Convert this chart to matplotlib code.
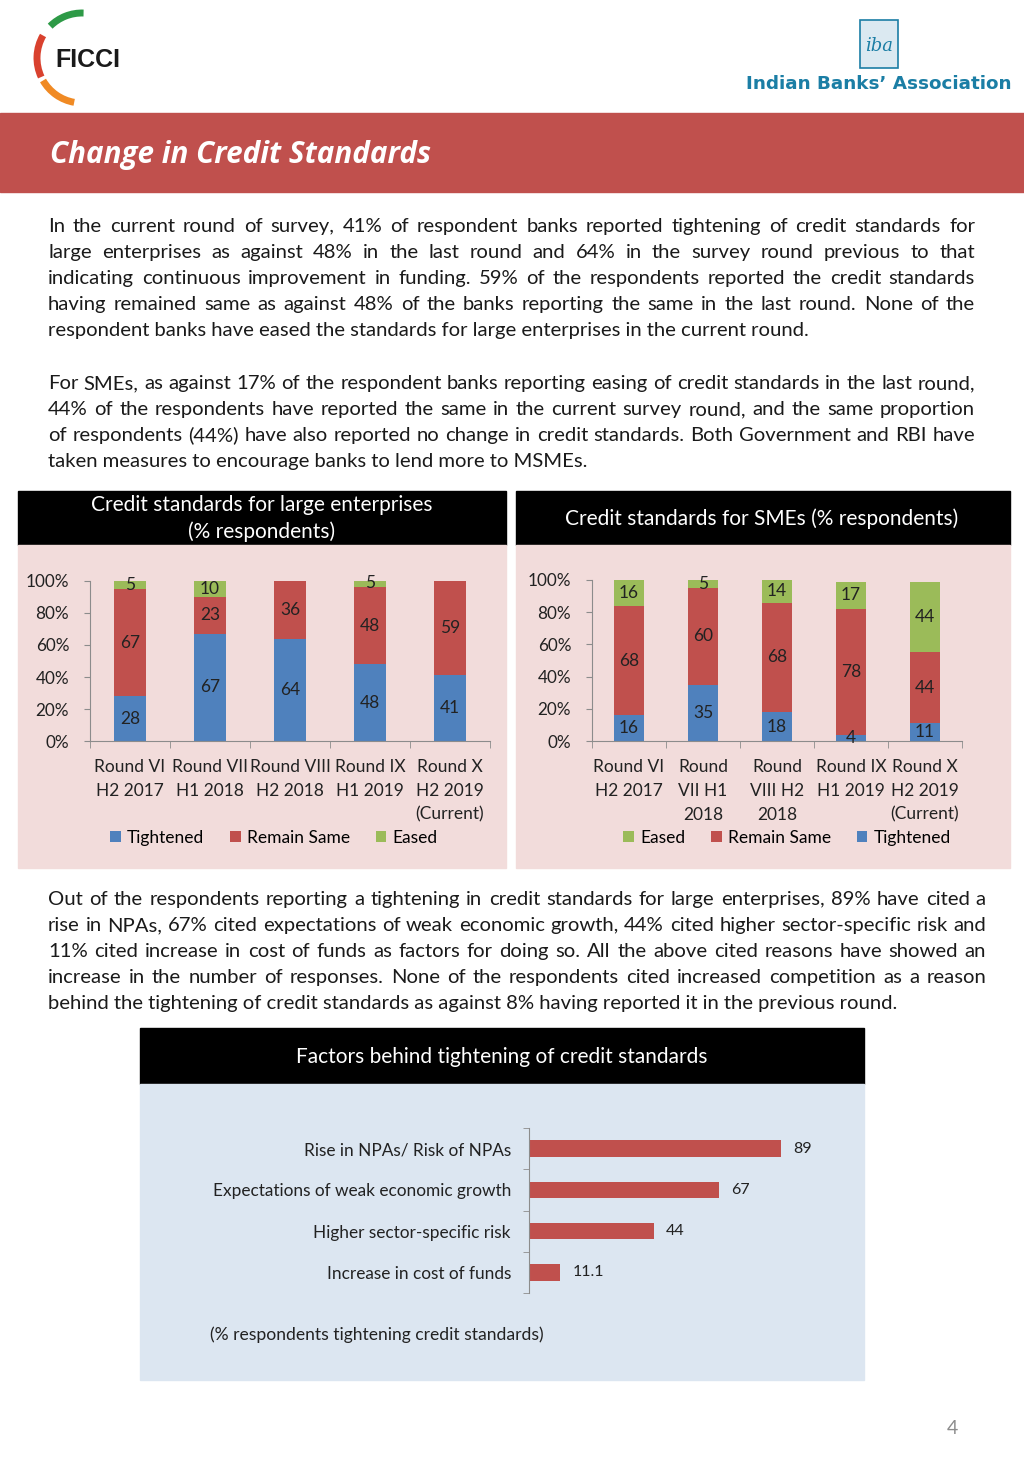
import matplotlib
matplotlib.use("Agg")
import matplotlib.pyplot as plt
from matplotlib.patches import Rectangle, Arc
import numpy as np

W, H = 1024, 1478
FONT = "Lato"
BLUE = "#4f81bd"
RED = "#c0504d"
GREEN = "#9bbb59"
GREY = "#8c8c8c"

# === Data ===
rounds_large = ["Round VI\nH2 2017", "Round VII\nH1 2018", "Round VIII\nH2 2018",
                "Round IX\nH1 2019", "Round X\nH2 2019\n(Current)"]
large_tightened = [28, 67, 64, 48, 41]
large_same = [67, 23, 36, 48, 59]
large_eased = [5, 10, 0, 5, 0]

rounds_sme = ["Round VI\nH2 2017", "Round\nVII H1\n2018", "Round\nVIII H2\n2018",
              "Round IX\nH1 2019", "Round X\nH2 2019\n(Current)"]
sme_tightened = [16, 35, 18, 4, 11]
sme_same = [68, 60, 68, 78, 44]
sme_eased = [16, 5, 14, 17, 44]

factors = ["Rise in NPAs/ Risk of NPAs", "Expectations of weak economic growth",
           "Higher sector-specific risk", "Increase in cost of funds"]
factor_values = [89, 67, 44, 11.1]

para1 = [
    "In the current round of survey, 41% of respondent banks reported tightening of credit standards for",
    "large enterprises as against 48% in the last round and 64% in the survey round previous to that",
    "indicating continuous improvement in funding. 59% of the respondents reported the credit standards",
    "having remained same as against 48% of the banks reporting the same in the last round.  None of the",
    "respondent banks have eased the standards for large enterprises in the current round.",
]
para2 = [
    "For SMEs, as against 17% of the respondent banks reporting easing of credit standards in the last round,",
    "44% of the respondents have reported the same in the current survey round, and the same proportion",
    "of respondents (44%) have also reported no change in credit standards. Both Government and RBI have",
    "taken measures to encourage banks to lend more to MSMEs.",
]
para3 = [
    "Out of the respondents reporting a tightening in credit standards for large enterprises, 89% have cited a",
    "rise in NPAs, 67% cited expectations of weak economic growth, 44% cited higher sector-specific risk and",
    "11% cited increase in cost of funds as factors for doing so. All the above cited reasons have showed an",
    "increase in the number of responses. None of the respondents cited increased competition as a reason",
    "behind the tightening of credit standards as against 8% having reported it in the previous round.",
]


def box(x, y, w, h):
    return [x / W, 1 - (y + h) / H, w / W, h / H]


fig = plt.figure(figsize=(W / 100, H / 100), dpi=100)
bg = fig.add_axes([0, 0, 1, 1])
bg.set_xlim(0, W)
bg.set_ylim(H, 0)
bg.axis("off")
renderer = fig.canvas.get_renderer()

# === Logos ===
bg.add_patch(Arc((82, 58), 90, 90, theta1=-135, theta2=-88, color="#2e9a47", lw=5))
bg.add_patch(Arc((82, 58), 90, 90, theta1=155, theta2=210, color="#d9412e", lw=5))
bg.add_patch(Arc((82, 58), 90, 90, theta1=100, theta2=150, color="#f08a24", lw=5))
bg.text(55, 60, "FICCI", fontsize=18, fontweight="bold", family="Liberation Sans",
        va="center", ha="left", color="#1a1a1a")
bg.add_patch(Rectangle((860, 20), 38, 48, facecolor="#dbe9f1", edgecolor="#1b7ea5", lw=1.2))
bg.text(879, 46, "iba", fontsize=13, family="DejaVu Serif", style="italic",
        ha="center", va="center", color="#1b7ea5")
bg.text(746, 84, "Indian Banks\u2019 Association", fontsize=13.2, fontweight="bold",
        family="DejaVu Sans", va="center", ha="left", color="#1b7ea5")

# === Banner ===
bg.add_patch(Rectangle((0, 113), W, 79, color=RED))
bg.text(50, 155, "Change in Credit Standards", fontsize=21.3, fontweight="bold",
        style="italic", family="Open Sans", color="white", va="center", ha="left")


# === Justified paragraphs ===
def justified(line, x0, x1, yb, fs=14.6, last=False):
    if last:
        bg.text(x0, yb, line, fontsize=fs, family=FONT, va="baseline", ha="left", color="#1a1a1a")
        return
    words = line.split()
    texts = [bg.text(0, yb, w, fontsize=fs, family=FONT, va="baseline", ha="left",
                     color="#1a1a1a") for w in words]
    widths = [t.get_window_extent(renderer).width for t in texts]
    gap = (x1 - x0 - sum(widths)) / (len(words) - 1)
    x = x0
    for t, w in zip(texts, widths):
        t.set_x(x)
        x += w + gap


for i, line in enumerate(para1):
    justified(line, 48, 975, 232 + 26 * i, last=(i == len(para1) - 1))
for i, line in enumerate(para2):
    justified(line, 48, 975, 389 + 26 * i, last=(i == len(para2) - 1))
for i, line in enumerate(para3):
    justified(line, 48, 986, 905 + 26 * i, last=(i == len(para3) - 1))

# === Panels ===
bg.add_patch(Rectangle((18, 491), 488, 54, color="black"))
bg.add_patch(Rectangle((18, 545), 488, 323, color="#f2dcdb"))
bg.add_patch(Rectangle((516, 491), 494, 54, color="black"))
bg.add_patch(Rectangle((516, 545), 494, 323, color="#f2dcdb"))
bg.add_patch(Rectangle((140, 1028), 724, 56, color="black"))
bg.add_patch(Rectangle((140, 1084), 724, 296, color="#dce6f1"))

bg.text(262, 505, "Credit standards for large enterprises", fontsize=15, family=FONT,
        color="white", ha="center", va="center")
bg.text(262, 532, "(% respondents)", fontsize=15, family=FONT,
        color="white", ha="center", va="center")
bg.text(762, 519, "Credit standards for SMEs (% respondents)", fontsize=15, family=FONT,
        color="white", ha="center", va="center")
bg.text(502, 1057, "Factors behind tightening of credit standards", fontsize=15, family=FONT,
        color="white", ha="center", va="center")


def stacked(rect, labels, series, legend_order, legend_x):
    ax = fig.add_axes(box(*rect))
    ax.set_facecolor("none")
    x = np.arange(len(labels))
    bottom = np.zeros(len(labels))
    handles = {}
    for vals, col, name in series:
        b = ax.bar(x, vals, 0.4, bottom=bottom, color=col, label=name)
        handles[name] = b
        for xi, v, b0 in zip(x, vals, bottom):
            if v > 0:
                ax.text(xi, b0 + v / 2, str(v), ha="center", va="center",
                        fontsize=12.5, family=FONT, color="#222222")
        bottom += np.array(vals)
    ax.set_xlim(-0.5, len(labels) - 0.5)
    ax.set_ylim(0, 100)
    ax.set_yticks(range(0, 101, 20))
    ax.set_yticklabels([f"{v}%" for v in range(0, 101, 20)], family=FONT, fontsize=12.3)
    ax.set_xticks(x)
    ax.set_xticklabels(labels, family=FONT, fontsize=12.5, linespacing=1.6)
    ax.set_xticks(np.arange(-0.5, len(labels), 1), minor=True)
    ax.tick_params(axis="x", which="major", length=0, pad=13, colors="#222222")
    ax.tick_params(axis="x", which="minor", length=5, color=GREY)
    ax.tick_params(axis="y", length=4, color=GREY, pad=11, labelcolor="#222222")
    for s in ["top", "right"]:
        ax.spines[s].set_visible(False)
    for s in ["left", "bottom"]:
        ax.spines[s].set_color(GREY)
    ax.legend([handles[n] for n in legend_order], legend_order, loc="center",
              bbox_to_anchor=(legend_x / W, 1 - 838 / H), bbox_transform=fig.transFigure,
              ncol=3, frameon=False, handlelength=0.6, handleheight=0.6,
              handletextpad=0.35, columnspacing=1.5, prop=dict(family=FONT, size=12.5))
    return ax


stacked((90, 581, 400, 160), rounds_large,
        [(large_tightened, BLUE, "Tightened"), (large_same, RED, "Remain Same"),
         (large_eased, GREEN, "Eased")],
        ["Tightened", "Remain Same", "Eased"], 274)
stacked((592, 580, 370, 161), rounds_sme,
        [(sme_tightened, BLUE, "Tightened"), (sme_same, RED, "Remain Same"),
         (sme_eased, GREEN, "Eased")],
        ["Eased", "Remain Same", "Tightened"], 787)

# === Factors chart ===
axf = fig.add_axes(box(529, 1128, 300, 165))
axf.set_facecolor("none")
yf = np.arange(len(factors))
axf.barh(yf, factor_values, 0.4, color=RED)
for yi, v in zip(yf, factor_values):
    axf.annotate(f"{v:g}", (v, yi), xytext=(9, 0), textcoords="offset points",
                 ha="left", va="center", fontsize=11.5, family=FONT, color="#222222")
axf.set_xlim(0, 106)
axf.set_ylim(len(factors) - 0.5, -0.5)
axf.set_yticks(yf)
axf.set_yticklabels(factors, family=FONT, fontsize=12.4, color="#222222")
axf.set_yticks(np.arange(-0.5, len(factors), 1), minor=True)
axf.tick_params(axis="y", which="major", length=0, pad=13)
axf.tick_params(axis="y", which="minor", length=4, color=GREY)
axf.set_xticks([])
for s in ["top", "right", "bottom"]:
    axf.spines[s].set_visible(False)
axf.spines["left"].set_color(GREY)

bg.text(210, 1335, "(% respondents tightening credit standards)", fontsize=12.6, family=FONT,
        color="#222222", ha="left", va="center")
bg.text(952, 1428, "4", fontsize=14, family=FONT, color="#8c8c8c", ha="center", va="center")

fig.savefig("out.png", dpi=100)
